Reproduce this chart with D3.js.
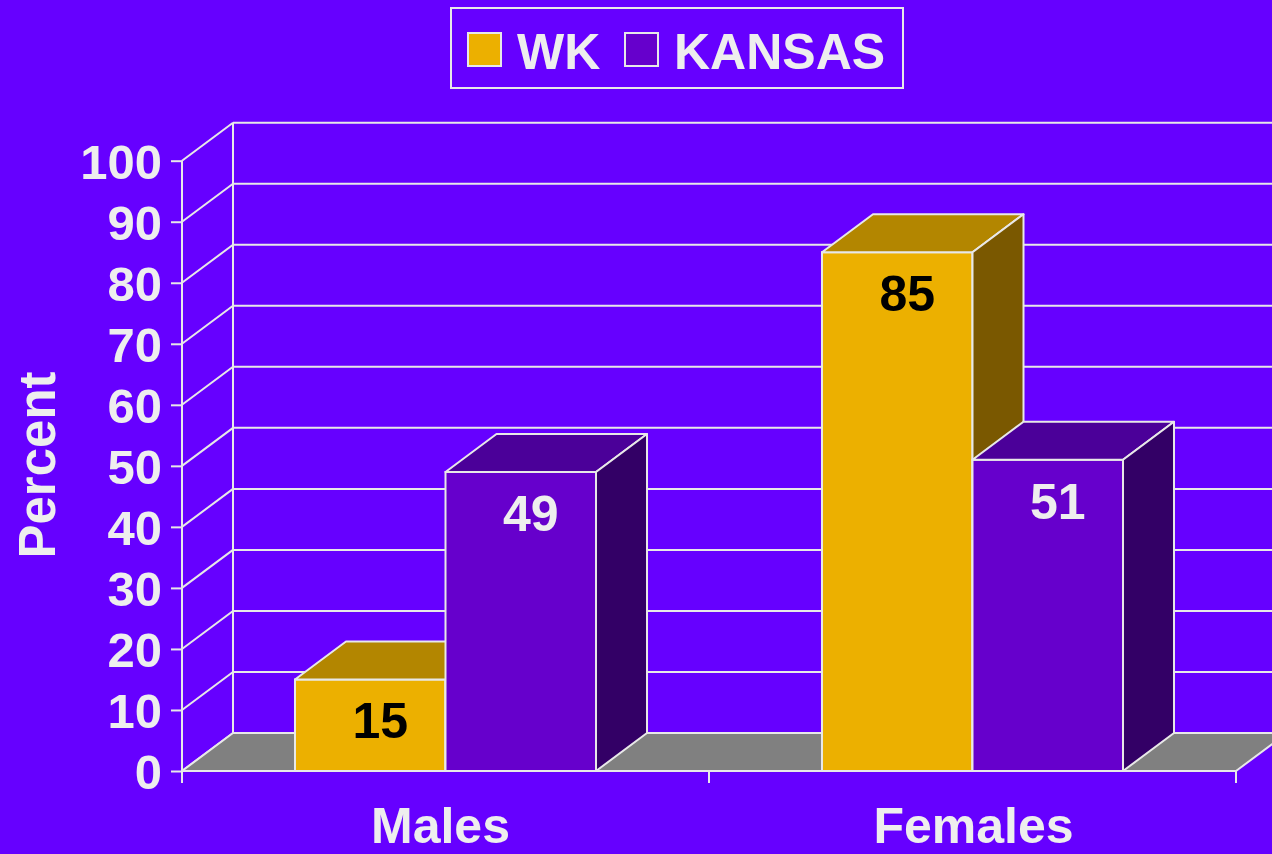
<!DOCTYPE html>
<html>
<head>
<meta charset="utf-8">
<script src="https://cdn.jsdelivr.net/npm/d3@7"></script>
<style>
  html, body { margin: 0; padding: 0; background: #6600FF; }
  svg { display: block; }
  text { font-family: "Liberation Sans", Arial, sans-serif; font-weight: bold; }
</style>
</head>
<body>
<svg id="chart" width="1272" height="854"></svg>
<script>
// ---- data ----
const categories = ["Males", "Females"];
const seriesNames = ["WK", "KANSAS"];
const wkValues = [15, 85];
const kansasValues = [49, 51];
const yTicks = [0, 10, 20, 30, 40, 50, 60, 70, 80, 90, 100];

// ---- styling / layout ----
const W = 1272, H = 854;
const BG = "#6600FF";
const LINE = "#E8E8E8";
const TEXT = "#EEEEEE";
const colors = {
  WK:     { front: "#ECB000", top: "#B38600", side: "#7A5800", label: "#000000" },
  KANSAS: { front: "#6600CC", top: "#4B0099", side: "#330066", label: "#EEEEEE" }
};
const DX = 51, DY = -38;            // 3D depth offset
const plotLeft = 182, plotRight = 1236;
const catLabelDx = [-5, 1];

const svg = d3.select("#chart");
svg.append("rect").attr("width", W).attr("height", H).attr("fill", BG);

const y = d3.scaleLinear().domain([0, 100]).range([771, 160.7]);
const x0 = d3.scaleBand().domain(categories).range([plotLeft, plotRight])
  .paddingInner(0.4288).paddingOuter(0.2144);
const x1 = d3.scaleBand().domain(seriesNames).range([0, x0.bandwidth()]);

const rows = categories.map((c, i) => ({
  cat: c,
  vals: [{ s: "WK", v: wkValues[i] }, { s: "KANSAS", v: kansasValues[i] }]
}));

// ---- back wall gridlines ----
const g = svg.append("g");
g.selectAll("line.grid").data(yTicks.filter(t => t > 0)).join("line")
  .attr("class", "grid")
  .attr("x1", plotLeft + DX).attr("x2", W + 10)
  .attr("y1", d => y(d) + DY).attr("y2", d => y(d) + DY)
  .attr("stroke", LINE).attr("stroke-width", 2);
// diagonal side-wall lines
g.selectAll("line.diag").data(yTicks).join("line")
  .attr("class", "diag")
  .attr("x1", plotLeft).attr("y1", d => y(d))
  .attr("x2", plotLeft + DX).attr("y2", d => y(d) + DY)
  .attr("stroke", LINE).attr("stroke-width", 2);
// back wall vertical
g.append("line")
  .attr("x1", plotLeft + DX).attr("x2", plotLeft + DX)
  .attr("y1", y(100) + DY).attr("y2", y(0) + DY)
  .attr("stroke", LINE).attr("stroke-width", 2);

// ---- floor ----
g.append("path")
  .attr("d", d3.line()([
    [plotLeft, y(0)], [plotLeft + DX, y(0) + DY],
    [plotRight + DX, y(0) + DY], [plotRight, y(0)]
  ]) + "Z")
  .attr("fill", "#808080").attr("stroke", LINE).attr("stroke-width", 2)
  .attr("stroke-linejoin", "round");

// ---- y axis ----
const yAxis = d3.axisLeft(y).tickValues(yTicks).tickSize(11).tickPadding(9).tickSizeOuter(0);
const ax = svg.append("g").attr("transform", `translate(${plotLeft},0)`).call(yAxis);
ax.select(".domain").remove();
ax.selectAll(".tick line").attr("stroke", LINE).attr("stroke-width", 2);
ax.selectAll(".tick text").attr("fill", TEXT).attr("font-size", 49)
  .attr("font-family", "Liberation Sans, Arial, sans-serif").attr("font-weight", "bold")
  .attr("dy", "0.36em");
svg.append("line")
  .attr("x1", plotLeft).attr("x2", plotLeft)
  .attr("y1", y(100)).attr("y2", y(0) + 12)
  .attr("stroke", LINE).attr("stroke-width", 2);

// ---- x axis ticks ----
const xTickPos = [plotLeft, plotLeft + x0.step(), plotRight];
svg.selectAll("line.xt").data(xTickPos).join("line")
  .attr("class", "xt")
  .attr("x1", d => d).attr("x2", d => d)
  .attr("y1", y(0)).attr("y2", y(0) + 12)
  .attr("stroke", LINE).attr("stroke-width", 2);
svg.append("line")
  .attr("x1", plotLeft).attr("x2", plotRight)
  .attr("y1", y(0)).attr("y2", y(0))
  .attr("stroke", LINE).attr("stroke-width", 2);

// ---- bars ----
const bars = svg.append("g");
rows.forEach(r => {
  r.vals.forEach(d => {
    const xl = x0(r.cat) + x1(d.s);
    const xr = xl + x1.bandwidth();
    const yt = y(d.v), yb = y(0);
    const c = colors[d.s];
    const bg = bars.append("g");
    bg.append("path")
      .attr("d", d3.line()([[xl, yt], [xr, yt], [xr, yb], [xl, yb]]) + "Z")
      .attr("fill", c.front).attr("stroke", LINE).attr("stroke-width", 2);
    bg.append("path")
      .attr("d", d3.line()([[xl, yt], [xl + DX, yt + DY], [xr + DX, yt + DY], [xr, yt]]) + "Z")
      .attr("fill", c.top).attr("stroke", LINE).attr("stroke-width", 2).attr("stroke-linejoin", "round");
    bg.append("path")
      .attr("d", d3.line()([[xr, yt], [xr + DX, yt + DY], [xr + DX, yb + DY], [xr, yb]]) + "Z")
      .attr("fill", c.side).attr("stroke", LINE).attr("stroke-width", 2).attr("stroke-linejoin", "round");
    bg.append("text")
      .attr("x", (xl + xr) / 2 + 10).attr("y", yt + 59)
      .attr("text-anchor", "middle").attr("font-size", 50)
      .attr("fill", c.label).text(d.v);
  });
});

// ---- category labels ----
svg.selectAll("text.cat").data(categories).join("text")
  .attr("class", "cat")
  .attr("x", (d, i) => x0(d) + x0.bandwidth() / 2 + catLabelDx[i])
  .attr("y", 843)
  .attr("text-anchor", "middle").attr("font-size", 50)
  .attr("fill", TEXT).text(d => d);

// ---- y axis title ----
svg.append("text")
  .attr("transform", "translate(55,465) rotate(-90)")
  .attr("text-anchor", "middle").attr("font-size", 51)
  .attr("fill", TEXT).text("Percent");

// ---- legend ----
const lg = svg.append("g");
lg.append("rect").attr("x", 451).attr("y", 8).attr("width", 452).attr("height", 80)
  .attr("fill", "none").attr("stroke", LINE).attr("stroke-width", 2);
const legendX = [468, 625];
seriesNames.forEach((s, i) => {
  lg.append("rect").attr("x", legendX[i]).attr("y", 33).attr("width", 33).attr("height", 33)
    .attr("fill", colors[s].front).attr("stroke", LINE).attr("stroke-width", 2);
  lg.append("text").attr("x", legendX[i] + 49).attr("y", 69)
    .attr("font-size", 50).attr("fill", TEXT).text(s);
});
</script>
</body>
</html>
